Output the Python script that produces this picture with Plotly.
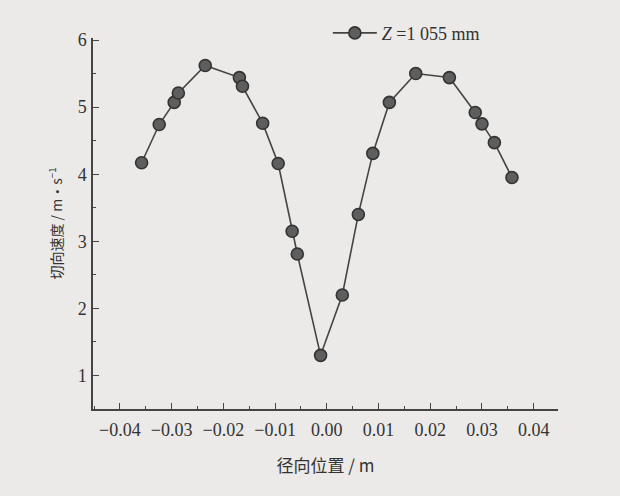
import plotly.graph_objects as go

radial_position = [-0.0358, -0.0324, -0.0295, -0.0287, -0.0235, -0.0169, -0.0163,
                   -0.0124, -0.0094, -0.0067, -0.0057, -0.0012, 0.0030, 0.0061,
                   0.0089, 0.0121, 0.0172, 0.0237, 0.0287, 0.0300, 0.0324, 0.0358]
tangential_velocity = [4.17, 4.74, 5.07, 5.21, 5.62, 5.44, 5.31,
                       4.76, 4.16, 3.15, 2.81, 1.30, 2.20, 3.40,
                       4.31, 5.07, 5.50, 5.44, 4.92, 4.75, 4.47, 3.95]
series_name = "<i>Z</i> =1 055 mm"
x_tick_vals = [-0.04, -0.03, -0.02, -0.01, 0.0, 0.01, 0.02, 0.03, 0.04]
x_tick_text = ["\u22120.04", "\u22120.03", "\u22120.02", "\u22120.01", "0.00", "0.01", "0.02", "0.03", "0.04"]
y_tick_vals = [1, 2, 3, 4, 5, 6]

bg = "#ebeae8"
ink = "#444444"

fig = go.Figure()
fig.add_trace(go.Scatter(
    x=radial_position, y=tangential_velocity, mode="lines+markers", name=series_name,
    line=dict(color=ink, width=1.6),
    marker=dict(size=12, color="#5e5e5e", line=dict(color="#333333", width=1.6)),
))

fig.update_layout(
    width=620, height=496,
    margin=dict(l=93, r=62, t=38, b=87),
    paper_bgcolor=bg, plot_bgcolor=bg,
    font=dict(family="Liberation Serif, Noto Sans CJK SC", size=18, color="#333"),
    showlegend=True,
    legend=dict(x=0.505, y=1.013, xanchor="left", yanchor="middle", bgcolor="rgba(0,0,0,0)",
                font=dict(size=18, family="Liberation Serif"), itemwidth=44),
)
fig.update_xaxes(
    range=[-0.0452, 0.0447], showgrid=False, zeroline=False,
    showline=True, linecolor=ink, linewidth=1.5,
    tickmode="array", tickvals=x_tick_vals, ticktext=x_tick_text,
    ticks="inside", ticklen=6, tickcolor=ink, tickwidth=1.2, ticklabelstandoff=4,
    minor=dict(ticks="inside", dtick=0.005, tick0=0, ticklen=3, tickcolor=ink, tickwidth=1.2),
    title=dict(text="径向位置 / m", font=dict(family="Noto Sans CJK SC", size=17), standoff=21),
)
fig.update_yaxes(
    range=[0.5, 6.03], showgrid=False, zeroline=False,
    showline=True, linecolor=ink, linewidth=1.5,
    tickmode="array", tickvals=y_tick_vals,
    ticks="inside", ticklen=6, tickcolor=ink, tickwidth=1.2, ticklabelstandoff=1,
    minor=dict(ticks="inside", dtick=0.5, tick0=0, ticklen=3, tickcolor=ink, tickwidth=1.2),
    title=dict(text="切向速度 / m·s<sup>−1</sup>", font=dict(family="Noto Sans CJK SC", size=14), standoff=12),
)

fig.write_html("out.html")
